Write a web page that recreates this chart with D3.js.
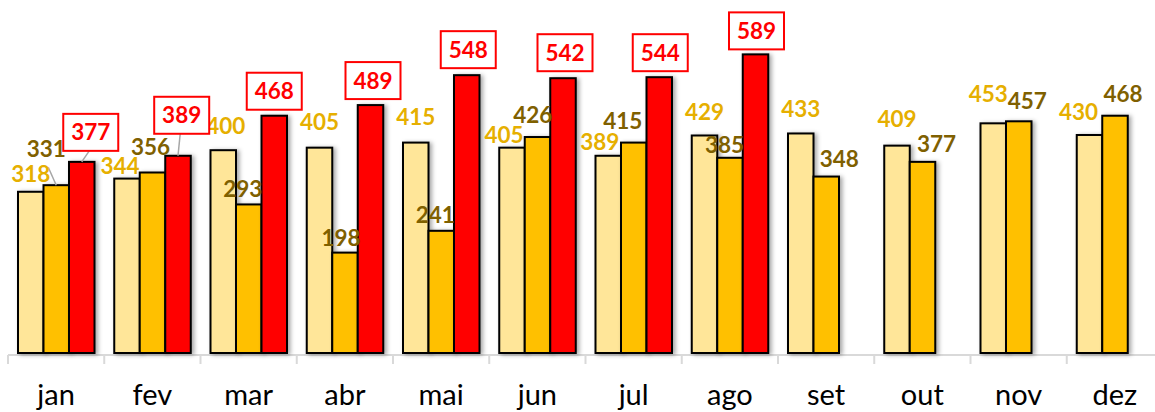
<!DOCTYPE html>
<html>
<head>
<meta charset="utf-8">
<script src="https://cdn.jsdelivr.net/npm/d3@7"></script>
<style>
  html, body { margin: 0; padding: 0; background: #fff; }
  svg { display: block; }
</style>
</head>
<body>
<svg id="chart" width="1155" height="412"></svg>
<script>
// ---- data ----
const months = ["jan","fev","mar","abr","mai","jun","jul","ago","set","out","nov","dez"];
const series1 = [318,344,400,405,415,405,389,429,433,409,453,430];
const series2 = [331,356,293,198,241,426,415,385,348,377,457,468];
const series3 = [377,389,468,489,548,542,544,589,null,null,null,null];

// ---- label layout (offset from bar centre, gap above bar top) ----
const lab1 = [[0,10],[-7,5],[2.5,16],[0,17.7],[0,17.6],[-8,4.4],[-8.5,5.8],[0,15.5],[0,16.8],[0,19],[-5,21.6],[-11,15]];
const lab2 = [[-10,28],[-2,17.5],[-6,7.7],[-4,7],[-6,8],[-4.7,13.7],[-11,13.3],[-5.5,4.5],[13,9.6],[14,10.3],[8.5,12],[8,14]];
const lab3 = [[9,11],[3.7,22],[0,6],[2.5,6],[1.5,7],[2,7],[1,6],[1,5]];
const leader2 = [0];
const leader3 = [0,1];

const fills = ["#FFE699","#FFC000","#FF0000"];
const labelColors = ["#E6AF00","#7F6000","#FF0000"];

const svg = d3.select("#chart");
const defs = svg.append("defs");
const f = defs.append("filter").attr("id","shadow").attr("x","-30%").attr("y","-10%").attr("width","170%").attr("height","130%");
f.append("feDropShadow").attr("dx",2.5).attr("dy",1).attr("stdDeviation",2.2).attr("flood-color","#000").attr("flood-opacity",0.35);

const x = d3.scaleBand().domain(months).range([8, 8 + 12*96.25]).paddingInner(0).paddingOuter(0);
const xs = d3.scaleBand().domain([0,1,2]).range([10, 86.5]);
const y = d3.scaleLinear().domain([0, 700]).range([353, 353 - 700*0.507]);

const allSeries = [series1, series2, series3];

// axis
const axisY = 355;
const axis = svg.append("g").attr("transform", `translate(0,${axisY})`);
axis.append("line").attr("x1", 8).attr("x2", 1155).attr("y1",0).attr("y2",0)
  .attr("stroke","#D9D9D9").attr("stroke-width",2);
const tickPos = d3.range(months.length + 1).map(i => x.range()[0] + i * x.bandwidth());
axis.selectAll("line.tick").data(tickPos).join("line").attr("class","tick")
  .attr("x1", d => d).attr("x2", d => d).attr("y1", 0).attr("y2", 9)
  .attr("stroke","#D9D9D9").attr("stroke-width",2);
axis.selectAll("text").data(months).join("text")
  .attr("x", d => x(d) + x.bandwidth()/2)
  .attr("y", 50)
  .attr("text-anchor","middle")
  .attr("font-family","Lato, 'Open Sans', sans-serif")
  .attr("font-size", 29)
  .attr("fill","#000")
  .text(d => d);

// bars
allSeries.forEach((vals, s) => {
  const g = svg.append("g");
  g.selectAll("rect").data(vals.map((v,i)=>({v,i})).filter(d => d.v != null)).join("rect")
    .attr("x", d => x(months[d.i]) + xs(s))
    .attr("width", xs.bandwidth())
    .attr("y", d => y(d.v))
    .attr("height", d => y(0) - y(d.v))
    .attr("fill", fills[s])
    .attr("stroke", "#000")
    .attr("stroke-width", 2)
    .attr("filter","url(#shadow)");
});

const cx = (i, s) => x(months[i]) + xs(s) + xs.bandwidth()/2;
const font = "Lato, 'Open Sans', sans-serif";

// leader lines
const gl = svg.append("g");
leader2.forEach(i => {
  const lx = cx(i,1) + lab2[i][0];
  const ly = y(series2[i]) - lab2[i][1];
  gl.append("line").attr("x1", lx + 2).attr("y1", ly + 10)
    .attr("x2", cx(i,1)).attr("y2", y(series2[i]))
    .attr("stroke","#A6A6A6").attr("stroke-width",1.5);
});
leader3.forEach(i => {
  const bx = cx(i,2) + lab3[i][0];
  const by = y(series3[i]) - lab3[i][1];
  gl.append("line").attr("x1", bx - 1.5).attr("y1", by)
    .attr("x2", cx(i,2)).attr("y2", y(series3[i]))
    .attr("stroke","#A6A6A6").attr("stroke-width",1.5);
});

// labels series 1 & 2
[[series1, lab1, 0], [series2, lab2, 1]].forEach(([vals, lab, s]) => {
  svg.append("g").selectAll("text").data(vals.map((v,i)=>({v,i}))).join("text")
    .attr("x", d => cx(d.i, s) + lab[d.i][0])
    .attr("y", d => y(d.v) - lab[d.i][1])
    .attr("text-anchor","middle")
    .attr("font-family", font)
    .attr("font-weight", 700)
    .attr("font-size", 22.5)
    .attr("fill", labelColors[s])
    .text(d => d.v);
});

// series 3 boxed labels
const bw = 55, bh = 37;
const g3 = svg.append("g");
series3.forEach((v, i) => {
  if (v == null) return;
  const bx = cx(i,2) + lab3[i][0];
  const bottom = y(v) - lab3[i][1];
  g3.append("rect").attr("x", bx - bw/2).attr("y", bottom - bh)
    .attr("width", bw).attr("height", bh)
    .attr("fill","#fff").attr("stroke","#FF0000").attr("stroke-width",2);
  g3.append("text").attr("x", bx).attr("y", bottom - bh/2 + 8)
    .attr("text-anchor","middle")
    .attr("font-family", font).attr("font-weight",700).attr("font-size",22.5)
    .attr("fill","#FF0000").text(v);
});
</script>
</body>
</html>
